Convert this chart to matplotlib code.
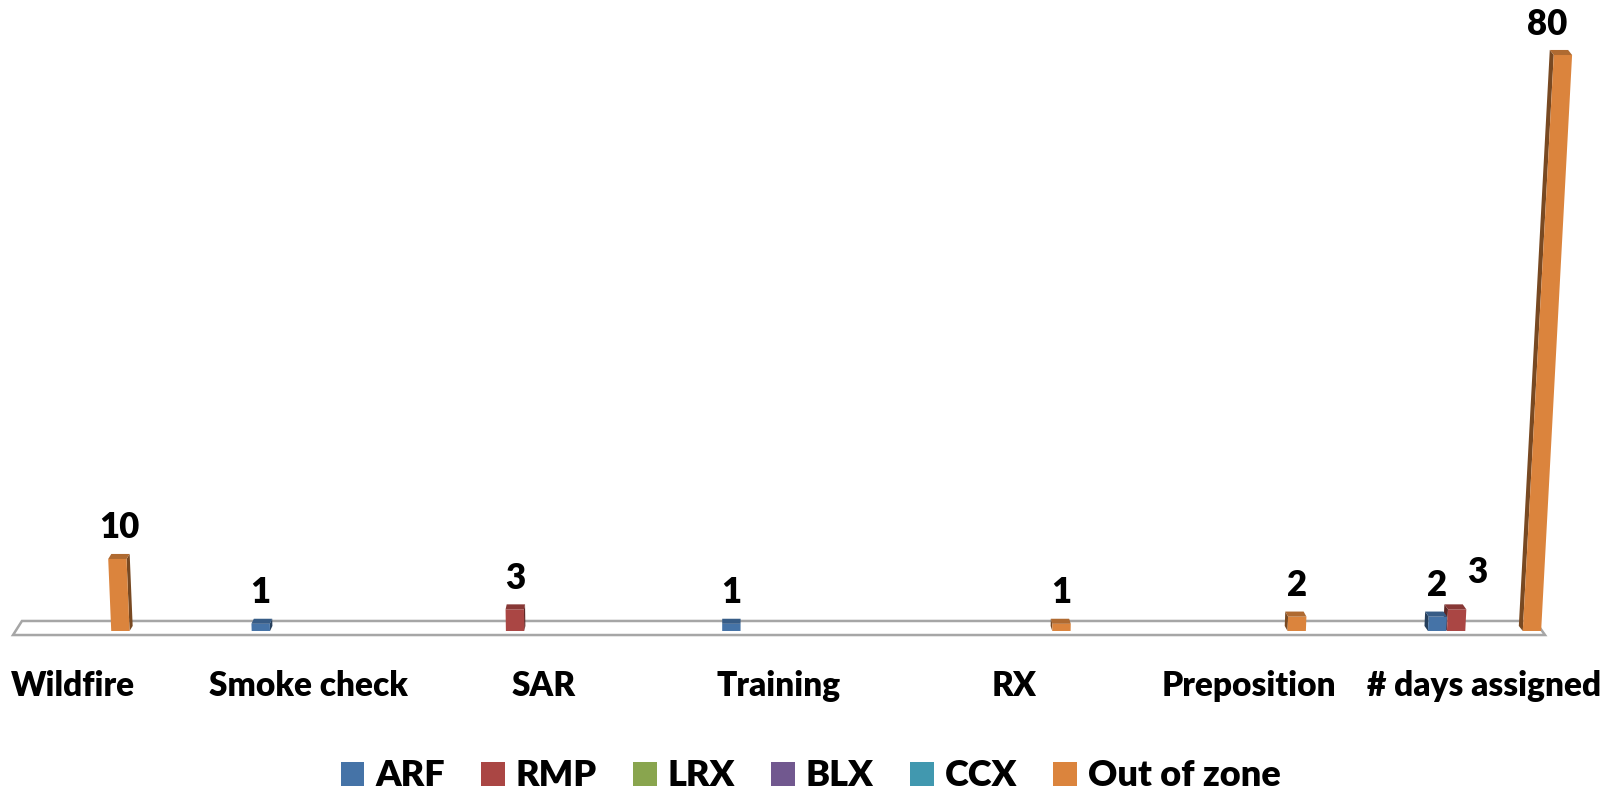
import matplotlib
matplotlib.use("Agg")
import matplotlib.pyplot as plt
from matplotlib.patches import Polygon, Patch
from matplotlib.colors import to_rgb

plt.rcParams['font.family'] = ['Lato', 'DejaVu Sans']

# data
categories = ['Wildfire', 'Smoke check', 'SAR', 'Training', 'RX', 'Preposition', '# days assigned']
series_names = ['ARF', 'RMP', 'LRX', 'BLX', 'CCX', 'Out of zone']
arf = [0, 1, 0, 1, 0, 0, 2]
rmp = [0, 0, 3, 0, 0, 0, 3]
lrx = [0, 0, 0, 0, 0, 0, 0]
blx = [0, 0, 0, 0, 0, 0, 0]
ccx = [0, 0, 0, 0, 0, 0, 0]
out_of_zone = [10, 0, 0, 0, 1, 2, 80]
series_values = [arf, rmp, lrx, blx, ccx, out_of_zone]

colors = ['#4573A7', '#AA4644', '#89A54E', '#71588F', '#4198AF', '#DB843D']
# excel pushed one label aside so it doesn't collide (series, category) -> pixels
label_nudge = {(1, 6): (21, 6)}


def shade(c, f):
    r, g, b = to_rgb(c)
    return (r * f, g * f, b * f)


fig = plt.figure(figsize=(16.21, 7.95), dpi=100)
ax = fig.add_axes([0, 0, 1, 1])
ax.set_xlim(-0.3103, 6.580)
ax.set_ylim(-22.78, 87.64)
ax.axis('off')

# floor of the 3d plot
floor = Polygon([(-0.255, -0.56), (6.257, -0.56), (6.215, 1.39), (-0.217, 1.39)],
                closed=True, facecolor='white', edgecolor='#a6a6a6', lw=1.8, zorder=1)
ax.add_patch(floor)

step = 0.0806    # slot per series
bw = 0.078       # bar width
depth = 0.7      # visible top depth (value units)
k_lean = 0.000488
x_vanish = 2.83

for s, (vals, col) in enumerate(zip(series_values, colors)):
    for i, h in enumerate(vals):
        if h == 0:
            continue
        xc = i + (s - 2.5) * step
        x0, x1 = xc - bw / 2, xc + bw / 2
        lean = k_lean * h * (xc - x_vanish)
        skew = -0.005 * (xc - x_vanish)
        xs = x0 if skew < 0 else x1
        side = Polygon([(xs, 0), (xs + lean, h), (xs + lean + skew, h + depth), (xs + skew, depth)],
                       closed=True, facecolor=shade(col, 0.55), edgecolor='none', zorder=2)
        front = Polygon([(x0, 0), (x1, 0), (x1 + lean, h), (x0 + lean, h)],
                        closed=True, facecolor=col, edgecolor='none', zorder=3)
        top = Polygon([(x0 + lean, h), (x1 + lean, h), (x1 + lean + skew, h + depth),
                       (x0 + lean + skew, h + depth)],
                      closed=True, facecolor=shade(col, 0.8), edgecolor='none', zorder=3)
        for p in (side, front, top):
            ax.add_patch(p)
        nx, ny = label_nudge.get((s, i), (0, 0))
        ax.annotate(str(h), xy=(xc + lean / 2, h), xytext=(nx, 31 + ny),
                    textcoords='offset pixels', ha='center', va='center',
                    fontsize=25, fontweight='heavy', zorder=5)

for i, c in enumerate(categories):
    ax.text(i, -9.03, c, ha='center', va='baseline', fontsize=24, fontweight='heavy')

handles = [Patch(facecolor=c, edgecolor='none') for c in colors]
fig.legend(handles, series_names, loc='center', bbox_to_anchor=(0.5, 0.024), ncol=6,
           frameon=False, prop={'size': 26, 'weight': 'heavy'},
           handlelength=0.66, handleheight=0.64, handletextpad=0.3, columnspacing=1.0,
           borderpad=0.1)

fig.savefig('out.png', dpi=100)
